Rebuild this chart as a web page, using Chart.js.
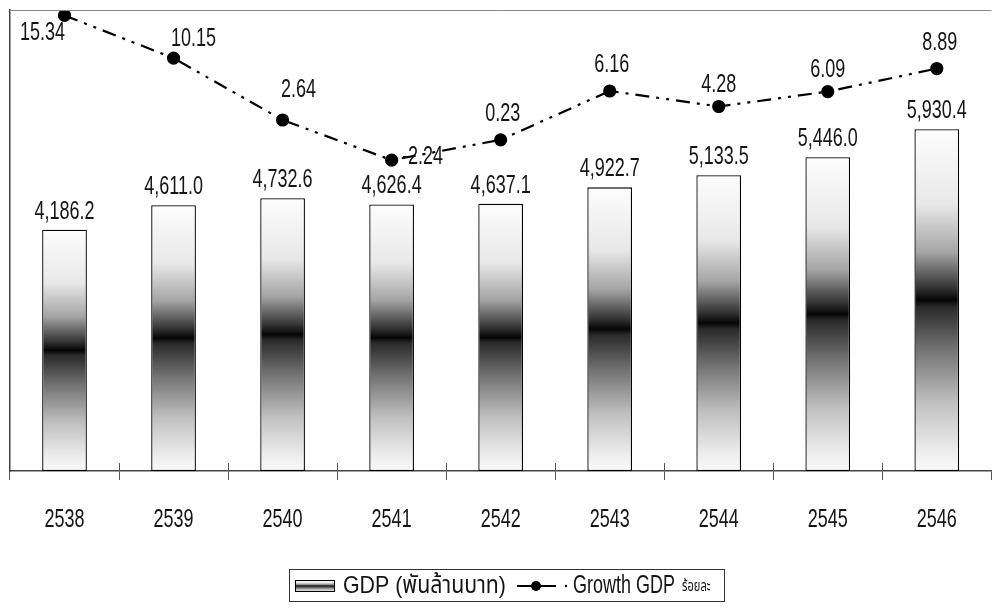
<!DOCTYPE html>
<html>
<head>
<meta charset="utf-8">
<script src="https://cdn.jsdelivr.net/npm/chart.js@4"></script>
<style>
html,body{margin:0;padding:0;background:#fff;}
#wrap{width:999px;height:609px;position:relative;}
</style>
</head>
<body>
<div id="wrap"><canvas id="c" width="999" height="609"></canvas></div>
<script>
const years = ['2538','2539','2540','2541','2542','2543','2544','2545','2546'];
const gdp = [4186.2, 4611.0, 4732.6, 4626.4, 4637.1, 4922.7, 5133.5, 5446.0, 5930.4];
const growth = [15.34, 10.15, 2.64, -2.24, 0.23, 6.16, 4.28, 6.09, 8.89];
const gdpLabels = ['4,186.2','4,611.0','4,732.6','4,626.4','4,637.1','4,922.7','5,133.5','5,446.0','5,930.4'];
const growthLabels = ['15.34','10.15','2.64','-2.24','0.23','6.16','4.28','6.09','8.89'];
const seriesNames = ['GDP (พันล้านบาท)', 'Growth GDP ', 'ร้อยละ'];

const FONT = "'Liberation Sans','Arimo',sans-serif";
const THAI = "'Liberation Sans','Noto Sans Thai',sans-serif";
const SQ = 0.72;   // horizontal squeeze to imitate the condensed face

function narrow(ctx, text, x, y, size, align, family, sq){
  sq = sq || SQ;
  ctx.save();
  ctx.font = size + 'px ' + (family || FONT);
  ctx.textAlign = align || 'center';
  ctx.textBaseline = 'middle';
  ctx.translate(x, y);
  ctx.scale(sq, 1);
  ctx.fillText(text, 0, 0);
  const w = ctx.measureText(text).width * sq;
  ctx.restore();
  return w;
}

function barGradient(ctx, top, bot){
  const g = ctx.createLinearGradient(0, top, 0, bot);
  g.addColorStop(0, '#fdfdfd');
  g.addColorStop(0.22, '#e8e8e8');
  g.addColorStop(0.36, '#a4a4a4');
  g.addColorStop(0.46, '#383838');
  g.addColorStop(0.50, '#050505');
  g.addColorStop(0.52, '#2a2a2a');
  g.addColorStop(0.64, '#707070');
  g.addColorStop(0.80, '#c0c0c0');
  g.addColorStop(0.94, '#ececec');
  g.addColorStop(1, '#fafafa');
  return g;
}

const labelPlugin = {
  id: 'labels',
  afterDatasetsDraw(chart, args, opts){
    const ctx = chart.ctx;
    ctx.save();
    ctx.fillStyle = '#141414';
    const bars = chart.getDatasetMeta(0).data;
    bars.forEach((b, i) => {
      narrow(ctx, gdpLabels[i], b.x, b.y - opts.barGap, 25);
    });
    const pts = chart.getDatasetMeta(1).data;
    pts.forEach((p, i) => {
      const o = opts.lineOffsets[i];
      narrow(ctx, growthLabels[i], p.x + o[0], p.y + o[1], 25);
    });
    const xs = chart.scales.x;
    xs.ticks.forEach((t, i) => {
      narrow(ctx, xs.getLabelForValue(t.value), xs.getPixelForTick(i), opts.tickY, 25);
    });
    ctx.restore();
  }
};

const framePlugin = {
  id: 'frame',
  afterDraw(chart){
    const ctx = chart.ctx;
    const a = chart.chartArea;
    const xs = chart.scales.x;
    ctx.save();
    ctx.strokeStyle = '#8a8a8a';
    ctx.lineWidth = 1;
    ctx.beginPath();
    ctx.moveTo(a.left, a.top + 0.5);
    ctx.lineTo(a.right, a.top + 0.5);
    ctx.stroke();
    ctx.strokeStyle = '#555';
    ctx.beginPath();
    const n = years.length;
    for (let i = 1; i < n; i++) {
      const x = Math.round((xs.getPixelForTick(i-1) + xs.getPixelForTick(i)) / 2) + 0.5;
      ctx.moveTo(x, a.bottom - 8);
      ctx.lineTo(x, a.bottom);
    }
    ctx.stroke();

    // legend
    const cy = 586;
    const bx = 289, by = 569, bw = 435, bh = 32;
    ctx.strokeStyle = '#333';
    ctx.lineWidth = 1;
    ctx.strokeRect(bx + 0.5, by + 0.5, bw, bh);
    let x = bx + 6;
    ctx.fillStyle = barGradient(ctx, cy - 6, cy + 6);
    ctx.fillRect(x, cy - 6, 40, 12);
    ctx.strokeStyle = '#000';
    ctx.strokeRect(x + 0.5, cy - 5.5, 39, 11);
    ctx.fillStyle = '#141414';
    narrow(ctx, seriesNames[0], 343, cy, 24, 'left', THAI, 0.89);
    const lx = 517;
    ctx.strokeStyle = '#000';
    ctx.lineWidth = 2;
    ctx.beginPath();
    ctx.moveTo(lx, cy);
    ctx.lineTo(lx + 39, cy);
    ctx.stroke();
    ctx.fillStyle = '#000';
    ctx.beginPath();
    ctx.arc(lx + 19, cy, 5, 0, Math.PI*2);
    ctx.fill();
    ctx.beginPath();
    ctx.arc(lx + 49, cy, 1.2, 0, Math.PI*2);
    ctx.fill();
    ctx.fillStyle = '#141414';
    const w2 = narrow(ctx, seriesNames[1], 573, cy, 25, 'left');
    narrow(ctx, seriesNames[2], 573 + w2 + 2, cy + 1, 15, 'left', THAI, 0.74);
    ctx.restore();
  }
};

new Chart(document.getElementById('c'), {
  data: {
    labels: years,
    datasets: [
      {
        type: 'bar',
        label: seriesNames[0],
        data: gdp,
        yAxisID: 'y',
        order: 2,
        borderColor: '#000',
        borderWidth: 1.3,
        borderSkipped: false,
        barPercentage: 0.41,
        categoryPercentage: 1,
        backgroundColor: (c) => {
          const ch = c.chart;
          if (!ch.chartArea || c.type !== 'data') return '#888';
          const ys = ch.scales.y;
          return barGradient(ch.ctx, ys.getPixelForValue(c.raw), ys.getPixelForValue(0));
        }
      },
      {
        type: 'line',
        label: seriesNames[1] + seriesNames[2],
        data: growth,
        yAxisID: 'y2',
        order: 1,
        borderColor: '#000',
        borderWidth: 2.2,
        borderDash: [14, 7, 3, 7, 3, 7],
        pointRadius: 5.5,
        pointBackgroundColor: '#000',
        pointBorderColor: '#000',
        tension: 0,
        fill: false
      }
    ]
  },
  options: {
    responsive: false,
    animation: false,
    events: [],
    layout: { padding: { top: 10, right: 0, left: 0, bottom: 0 } },
    plugins: {
      legend: { display: false },
      tooltip: { enabled: false },
      labels: {
        barGap: 18,
        tickY: 520,
        lineOffsets: [[-22, 18], [20, -19], [16, -30], [31, -3], [2, -26], [2, -26], [0, -21], [0, -21], [3, -25]]
      }
    },
    scales: {
      x: {
        offset: true,
        grid: { display: true, offset: true, drawOnChartArea: false, drawTicks: true, tickLength: 9, color: '#555', lineWidth: 1 },
        border: { display: true, color: '#444', width: 1.5 },
        ticks: { display: false },
        afterFit: (s) => { s.height = 138; }
      },
      y: {
        position: 'left',
        min: 0, max: 8000,
        grid: { display: false },
        border: { display: true, color: '#444', width: 1.5 },
        ticks: { display: false },
        afterFit: (s) => { s.width = 10; }
      },
      y2: {
        position: 'right',
        display: false,
        min: -40, max: 16
      }
    }
  },
  plugins: [labelPlugin, framePlugin]
});
</script>
</body>
</html>
